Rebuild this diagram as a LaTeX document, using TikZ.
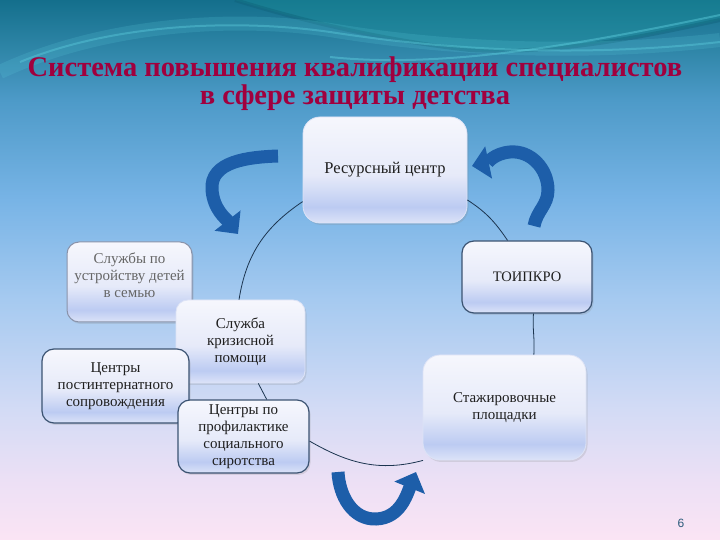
\documentclass[tikz,border=0pt]{standalone}
\usepackage{fontspec}
\setmainfont{Liberation Serif}
\newfontfamily\sansfam{Liberation Sans}
\usetikzlibrary{arrows.meta,shadows}
\definecolor{titleC}{HTML}{A0003E}
\definecolor{lineC}{HTML}{1C3550}
\definecolor{arrC}{HTML}{1D5EA9}
\definecolor{bordC}{HTML}{3B5372}
\definecolor{softC}{HTML}{DDE3F6}
\definecolor{grayC}{HTML}{8A93AA}
\definecolor{pgC}{HTML}{2A5A7A}
\definecolor{bg0}{HTML}{FBE4F4}
\definecolor{bg1}{HTML}{ECE0F5}
\definecolor{bg2}{HTML}{D3DBF5}
\definecolor{bg3}{HTML}{A6CAF0}
\definecolor{bg4}{HTML}{78B4E6}
\definecolor{bg5}{HTML}{4D9AC8}
\definecolor{bg6}{HTML}{2F86A8}
\definecolor{bg7}{HTML}{146F8C}
\definecolor{bA}{HTML}{DCE3F8}
\definecolor{bB}{HTML}{BCCBF2}
\definecolor{bC}{HTML}{E6EAF9}
\definecolor{bD}{HTML}{F6F7FD}
\definecolor{waveG}{HTML}{1A9499}
\definecolor{waveD}{HTML}{0E5F76}
\definecolor{waveL}{HTML}{5FD0E0}
\pgfdeclareverticalshading{bgsh}{100bp}{color(0bp)=(bg0); color(25bp)=(bg0); color(30.56bp)=(bg1); color(37.04bp)=(bg2); color(47.22bp)=(bg3); color(56.48bp)=(bg4); color(65.74bp)=(bg5); color(70.37bp)=(bg6); color(75bp)=(bg7); color(100bp)=(bg7)}
\pgfdeclareverticalshading{boxsh}{100bp}{color(0bp)=(bA); color(25bp)=(bA); color(32.5bp)=(bB); color(47.5bp)=(bC); color(75bp)=(bD); color(100bp)=(bD)}
\begin{document}
\begin{tikzpicture}[x=1pt,y=1pt,
  box/.style={shade, shading=boxsh, rounded corners=12pt, inner sep=2pt, align=center,
    font=\fontsize{15}{17}\selectfont, text=black!88,
    drop shadow={opacity=0.2,shadow xshift=1.5pt,shadow yshift=-2pt}},
  darkbox/.style={box, draw=bordC, line width=1.2pt},
  softbox/.style={box, draw=softC, line width=0.8pt},
  fadebox/.style={box, draw=grayC, line width=1pt, text=black!60},
  conn/.style={draw=lineC, line width=0.8pt},
  barrow/.style={draw=arrC, line width=13pt, -{Triangle[width=32pt,length=17pt]}},
  titlestyle/.style={font=\fontsize{28.5}{28}\selectfont\bfseries, text=titleC, inner sep=0pt}
]
\useasboundingbox (0,0) rectangle (720,540);
\shade[shading=bgsh] (0,0) rectangle (720,540);
% waves
\fill[waveG, opacity=0.35] (235,540) .. controls (300,520) and (380,500) .. (470,490) .. controls (560,485) and (650,505) .. (720,520) -- (720,540) -- cycle;
\draw[waveD, line width=4pt, opacity=0.4] (235,540) .. controls (300,520) and (380,500) .. (470,490) .. controls (560,485) and (650,505) .. (720,520);
\draw[waveL, line width=2pt, opacity=0.45] (330,483) .. controls (450,470) and (600,500) .. (720,525);
\draw[waveL, line width=14pt, opacity=0.18] (0,468) .. controls (100,515) and (230,525) .. (330,510) .. controls (420,495) and (560,482) .. (720,500);
\draw[waveL, line width=2pt, opacity=0.4] (20,478) .. controls (110,515) and (230,522) .. (330,508) .. controls (420,494) and (560,480) .. (720,498);
% title
\node[titlestyle, anchor=base] (t1) at (355,463) {Система повышения квалификации специалистов};
\node[titlestyle, anchor=base] (t2) at (355,435) {в сфере защиты детства};
% boxes
\node[fadebox, minimum width=125pt, minimum height=80pt] (slu) at (129.5,258) {Службы по\\устройству детей\\в семью\\[-4pt]\mbox{}};
\node[softbox, minimum width=129pt, minimum height=83pt] (krz) at (240.5,198.5) {Служба\\кризисной\\помощи};
\node[darkbox, minimum width=147pt, minimum height=74pt] (post) at (115.5,154) {Центры\\постинтернатного\\сопровождения};
\node[darkbox, minimum width=131pt, minimum height=73pt] (prof) at (243.5,103.5) {Центры по\\профилактике\\социального\\сиротства};
\node[softbox, rounded corners=17pt, minimum width=164pt, minimum height=106pt, font=\fontsize{16.5}{18}\selectfont] (res) at (385,370) {Ресурсный центр};
\node[darkbox, minimum width=130pt, minimum height=72pt, font=\fontsize{14.5}{17}\selectfont] (toi) at (527,263) {ТОИПКРО};
\node[softbox, rounded corners=17pt, minimum width=163pt, minimum height=105pt] (staj) at (504.5,132.5) {Стажировочные\\площадки};
% ring connectors
\draw[conn] (res.201) to[out=214,in=81] (krz.92);
\draw[conn] (krz.293) -- (prof.58);
\draw[conn] (prof.356) to[out=-30,in=195] (staj.213);
\draw[conn] (staj.61) to[out=86,in=-94] (toi.-80);
\draw[conn] (toi.118) to[out=124,in=-33] (res.340);
% curved arrows
\draw[barrow] (278,384) to[out=182,in=95] (212,350) to[out=-85,in=128] (238,306);
\draw[barrow] (534,314) to[out=80,in=-90] (548,350) to[out=90,in=5] (510,388) to[out=185,in=12] (472,374);
\draw[barrow] (338,68) to[out=-87,in=182] (376,21) to[out=2,in=-112] (416,68);
% page number
\node[font=\sansfam\fontsize{12}{12}\selectfont, text=pgC] (pg) at (681,17) {6};
\end{tikzpicture}
\end{document}
